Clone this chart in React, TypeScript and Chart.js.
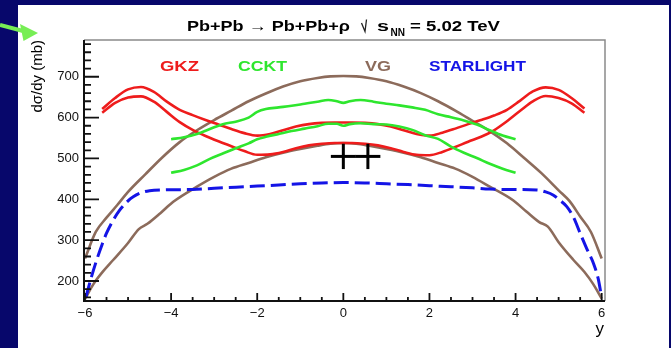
import React, { useEffect, useRef } from "react";
import { Chart, registerables } from "chart.js";

Chart.register(...registerables);

// ---------- data ----------
const xTicks = [-6, -4, -2, 0, 2, 4, 6];
const yTicks = [200, 300, 400, 500, 600, 700];

const gkzRapidity = [-5.6, -5.3, -5.0, -4.7, -4.4, -4.1, -3.8, -3.5, -3.2, -2.9, -2.6, -2.3, -2.0, -1.7, -1.4, -1.1, -0.8, -0.5, -0.2, 0, 0.2, 0.5, 0.8, 1.1, 1.4, 1.7, 2.0, 2.3, 2.6, 2.9, 3.2, 3.5, 3.8, 4.1, 4.4, 4.7, 5.0, 5.3, 5.6];
const gkzUpper = [621, 648, 669, 675, 663, 639, 619, 606, 594, 583, 572, 562, 556, 560, 569, 578, 584, 587, 588, 588, 588, 587, 584, 578, 569, 560, 556, 563, 573, 584, 594, 605, 619, 641, 664, 674, 668, 648, 622];
const gkzLower = [612, 636, 649, 652, 639, 614, 589, 570, 555, 542, 530, 518, 509, 510, 516, 525, 532, 536, 538, 538, 538, 536, 532, 525, 516, 509, 508, 516, 528, 541, 553, 569, 591, 616, 640, 653, 648, 635, 612];

const ccktRapidity = [-4.0, -3.7, -3.4, -3.1, -2.8, -2.5, -2.2, -2.0, -1.8, -1.5, -1.2, -0.9, -0.6, -0.35, -0.15, 0, 0.15, 0.4, 0.7, 1.0, 1.3, 1.6, 1.9, 2.2, 2.5, 2.8, 3.1, 3.4, 3.7, 4.0];
const ccktUpper = [547, 552, 560, 572, 584, 590, 600, 614, 621, 625, 629, 634, 639, 643, 640, 636, 640, 643, 639, 634, 630, 625, 619, 608, 601, 593, 583, 569, 556, 547];
const ccktLower = [465, 472, 483, 499, 512, 525, 537, 547, 553, 560, 567, 573, 579, 585, 585, 580, 584, 586, 584, 583, 578, 570, 557, 548, 529, 514, 501, 487, 475, 465];

const vgUpperRapidity = [-6, -5.75, -5.5, -5.25, -5.0, -4.6, -4.2, -3.8, -3.4, -3.0, -2.6, -2.2, -1.8, -1.4, -1.0, -0.6, -0.3, 0, 0.3, 0.6, 1.0, 1.4, 1.8, 2.2, 2.6, 3.0, 3.4, 3.8, 4.2, 4.6, 5.0, 5.25, 5.5, 5.75, 6];
const vgUpper = [255, 320, 355, 386, 418, 461, 503, 540, 569, 594, 617, 640, 659, 676, 689, 697, 701, 702, 701, 697, 689, 676, 660, 640, 617, 592, 567, 537, 501, 464, 422, 396, 358, 320, 255];
const vgLowerRapidity = [-6, -5.8, -5.6, -5.34, -5.0, -4.75, -4.55, -4.25, -3.95, -3.4, -3.0, -2.6, -2.2, -1.8, -1.4, -1.0, -0.6, -0.3, 0, 0.3, 0.6, 1.0, 1.4, 1.8, 2.2, 2.6, 3.0, 3.4, 3.95, 4.25, 4.55, 4.75, 5.0, 5.34, 5.6, 5.8, 6];
const vgLower = [156, 193, 221, 252, 293, 327, 340, 366, 394, 431, 455, 475, 489, 503, 514, 523, 531, 536, 538, 536, 531, 523, 514, 503, 489, 475, 455, 431, 397, 370, 344, 333, 295, 252, 222, 193, 157];

const starlightRapidity = [-5.98, -5.85, -5.73, -5.6, -5.5, -5.35, -5.19, -5.0, -4.88, -4.7, -4.5, -4.2, -3.5, -3.0, -2.25, -1.5, -1.0, -0.5, 0, 0.5, 1.0, 1.5, 2.25, 3.0, 3.4, 4.0, 4.5, 4.7, 4.88, 5.0, 5.19, 5.35, 5.5, 5.65, 5.81, 5.92, 5.99];
const starlight = [160, 210, 251, 290, 317, 348, 374, 396, 406, 416, 421, 423, 424, 427, 431, 435, 438, 440, 441, 440, 438, 436, 432, 428, 425, 424, 423, 418, 410, 400, 382, 355, 317, 280, 243, 205, 165];

const measuredRapidity = [0, 0.57];
const measuredValue = [505, 505];
const measuredXErr = [0.29, 0.29];
const measuredYErr = [31, 31];

const legendLabels = ["GKZ", "CCKT", "VG", "STARLIGHT"];

// ---------- styles ----------
const RED = "#ee1c1c";
const GREEN = "#2ee62e";
const BROWN = "#8c6b5b";
const BLUE = "#1414e6";
const NAVY = "#07076b";
const FONT = "'Liberation Sans', Arial, Helvetica, sans-serif";

const pts = (xs: number[], ys: number[]) => xs.map((x, i) => ({ x, y: ys[i] }));

function curve(label: string, xs: number[], ys: number[], color: string, extra: any = {}) {
  return {
    label,
    data: pts(xs, ys),
    borderColor: color,
    backgroundColor: color,
    borderWidth: 2.6,
    pointRadius: 0,
    cubicInterpolationMode: "monotone",
    fill: false,
    ...extra,
  };
}

function fitText(ctx: CanvasRenderingContext2D, text: string, x: number, baseline: number, width: number) {
  const w = ctx.measureText(text).width;
  ctx.save();
  ctx.translate(x, baseline);
  ctx.scale(width / w, 1);
  ctx.textAlign = "left";
  ctx.textBaseline = "alphabetic";
  ctx.fillText(text, 0, 0);
  ctx.restore();
}

const decorPlugin = {
  id: "decor",
  beforeDraw(chart: any) {
    const ctx: CanvasRenderingContext2D = chart.ctx;
    ctx.save();
    ctx.fillStyle = NAVY;
    ctx.fillRect(0, 0, chart.width, chart.height);
    ctx.fillStyle = "#ffffff";
    ctx.fillRect(18, 5, 651, 343);
    // green pointer arrow
    ctx.strokeStyle = "#77ee55";
    ctx.fillStyle = "#77ee55";
    ctx.lineWidth = 4;
    ctx.beginPath();
    ctx.moveTo(0, 25);
    ctx.lineTo(25, 31.5);
    ctx.stroke();
    ctx.beginPath();
    ctx.moveTo(20, 24);
    ctx.lineTo(38, 33);
    ctx.lineTo(23.5, 41);
    ctx.closePath();
    ctx.fill();
    ctx.restore();
  },
  afterDatasetsDraw(chart: any) {
    const ctx: CanvasRenderingContext2D = chart.ctx;
    const { left, right, top, bottom } = chart.chartArea;
    const xs = chart.scales.x;
    const ys = chart.scales.y;
    ctx.save();
    // frame (top/right)
    ctx.strokeStyle = "#8a8a8a";
    ctx.lineWidth = 1.5;
    ctx.beginPath();
    ctx.moveTo(left, top);
    ctx.lineTo(right, top);
    ctx.lineTo(right, bottom);
    ctx.stroke();
    // axes
    ctx.strokeStyle = "#111";
    ctx.lineWidth = 2;
    ctx.beginPath();
    ctx.moveTo(left, top);
    ctx.lineTo(left, bottom);
    ctx.lineTo(right, bottom);
    ctx.stroke();
    // y ticks
    ctx.lineWidth = 1.8;
    ctx.beginPath();
    for (let v = 160; v <= 780; v += 20) {
      const p = ys.getPixelForValue(v);
      const major = v % 100 === 0;
      ctx.moveTo(left, p);
      ctx.lineTo(left + (major ? 15 : 7), p);
    }
    // x ticks
    for (let k = -12; k <= 12; k++) {
      const v = k * 0.5;
      const p = xs.getPixelForValue(v);
      const major = k % 4 === 0;
      ctx.moveTo(p, bottom);
      ctx.lineTo(p, bottom - (major ? 8 : 4));
    }
    ctx.stroke();
    ctx.restore();
  },
  afterDraw(chart: any) {
    const ctx: CanvasRenderingContext2D = chart.ctx;
    ctx.save();
    ctx.fillStyle = "#000";
    // title
    ctx.font = `bold 15px ${FONT}`;
    fitText(ctx, "Pb+Pb \u2192 Pb+Pb+\u03c1", 187, 31, 163);
    ctx.strokeStyle = "#222";
    ctx.lineWidth = 1.3;
    ctx.beginPath();
    ctx.moveTo(361.5, 23);
    ctx.lineTo(365, 31.5);
    ctx.lineTo(366.5, 19.5);
    ctx.stroke();
    fitText(ctx, "s", 377, 31, 12);
    ctx.font = `bold 11px ${FONT}`;
    fitText(ctx, "NN", 390.5, 35.5, 14.5);
    ctx.font = `bold 15px ${FONT}`;
    fitText(ctx, "= 5.02 TeV", 410, 31, 90);
    // legend labels
    const legendColors = [RED, GREEN, BROWN, BLUE];
    const legendX = [160, 238, 365, 429];
    const legendW = [39, 49, 26, 97];
    legendLabels.forEach((t, i) => {
      ctx.fillStyle = legendColors[i];
      fitText(ctx, t, legendX[i], 70.5, legendW[i]);
    });
    // axis titles
    ctx.fillStyle = "#000";
    ctx.font = `15px ${FONT}`;
    ctx.save();
    ctx.translate(41.5, 40);
    ctx.rotate(-Math.PI / 2);
    ctx.textAlign = "right";
    ctx.textBaseline = "alphabetic";
    ctx.fillText("d\u03c3/dy (mb)", 0, 0);
    ctx.restore();
    ctx.font = `17px ${FONT}`;
    ctx.textAlign = "right";
    ctx.fillText("y", 604, 334);
    ctx.restore();
  },
};

export default function App() {
  const ref = useRef<HTMLCanvasElement | null>(null);

  useEffect(() => {
    document.body.style.margin = "0";
    const canvas = ref.current;
    if (!canvas) return;

    const errorSets: any[] = [];
    measuredRapidity.forEach((x, i) => {
      const y = measuredValue[i];
      const ex = measuredXErr[i];
      const ey = measuredYErr[i];
      const common = { borderColor: "#000", borderWidth: 3, pointRadius: 0, tension: 0, fill: false };
      errorSets.push({ label: "data-h" + i, data: [{ x: x - ex, y }, { x: x + ex, y }], ...common });
      errorSets.push({ label: "data-v" + i, data: [{ x, y: y - ey }, { x, y: y + ey }], ...common });
    });

    const chart = new Chart(canvas, {
      type: "line",
      data: {
        datasets: [
          ...errorSets,
          curve("STARLIGHT", starlightRapidity, starlight, BLUE, { borderDash: [15, 6], borderWidth: 3 }),
          curve("CCKT upper", ccktRapidity, ccktUpper, GREEN),
          curve("CCKT lower", ccktRapidity, ccktLower, GREEN),
          curve("GKZ upper", gkzRapidity, gkzUpper, RED),
          curve("GKZ lower", gkzRapidity, gkzLower, RED),
          curve("VG upper", vgUpperRapidity, vgUpper, BROWN),
          curve("VG lower", vgLowerRapidity, vgLower, BROWN),
        ] as any,
      },
      options: {
        responsive: false,
        animation: false,
        devicePixelRatio: 1,
        layout: { padding: { left: 0, right: 66, top: 40, bottom: 0 } },
        plugins: {
          legend: { display: false },
          tooltip: { enabled: false },
          title: { display: false },
        },
        scales: {
          x: {
            type: "linear",
            min: -6.023,
            max: 6.077,
            grid: { display: false, drawTicks: false },
            border: { display: false },
            afterBuildTicks: (s: any) => {
              s.ticks = xTicks.map((v) => ({ value: v }));
            },
            afterFit: (s: any) => {
              s.height = 47;
            },
            ticks: {
              padding: 5,
              maxRotation: 0,
              autoSkip: false,
              color: "#111",
              font: { family: FONT, size: 13 },
              callback: (v: any) => (Number(v) < 0 ? "\u2212" + Math.abs(Number(v)) : String(v)),
            },
          },
          y: {
            type: "linear",
            min: 151,
            max: 790,
            grid: { display: false, drawTicks: false },
            border: { display: false },
            afterBuildTicks: (s: any) => {
              s.ticks = yTicks.map((v) => ({ value: v }));
            },
            afterFit: (s: any) => {
              s.width = 84;
            },
            ticks: {
              padding: 5,
              autoSkip: false,
              color: "#111",
              font: { family: FONT, size: 13 },
            },
          },
        },
      } as any,
      plugins: [decorPlugin],
    });

    return () => chart.destroy();
  }, []);

  return (
    <div style={{ width: 671, height: 348, position: "relative" }}>
      <canvas ref={ref} width={671} height={348} style={{ display: "block" }} />
    </div>
  );
}
